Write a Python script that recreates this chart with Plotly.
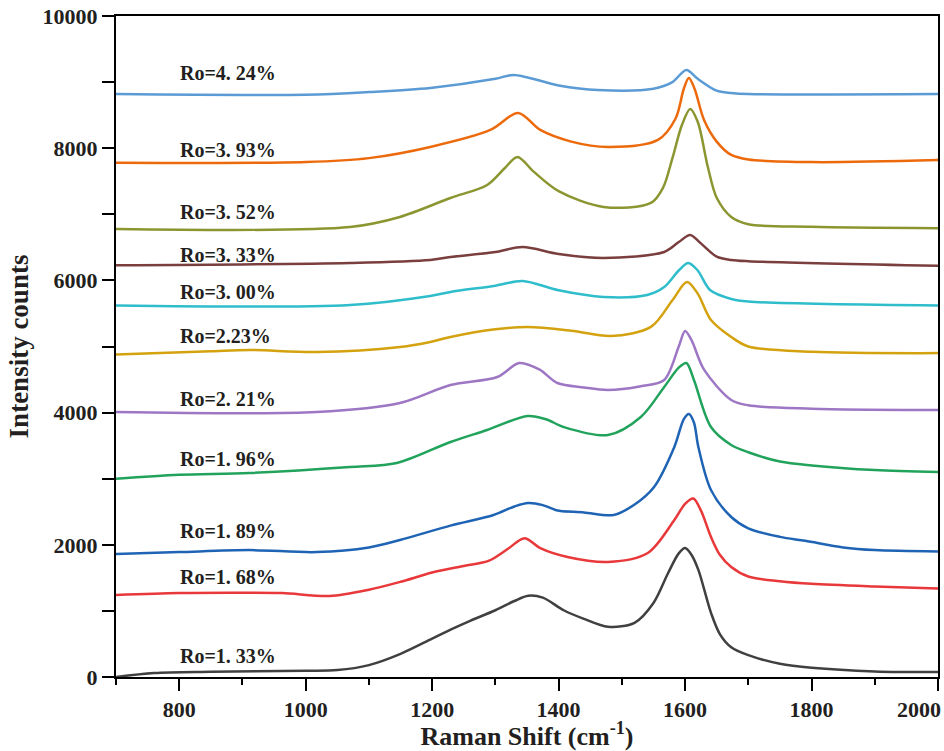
import plotly.graph_objects as go

labels = ["Ro=1. 33%", "Ro=1. 68%", "Ro=1. 89%", "Ro=1. 96%", "Ro=2. 21%", "Ro=2.23%",
          "Ro=3. 00%", "Ro=3. 33%", "Ro=3. 52%", "Ro=3. 93%", "Ro=4. 24%"]
colors = ["#404040", "#e8383a", "#1f64b4", "#22a35c", "#9d76c4", "#d4a20e",
          "#2fbdcc", "#7a3e3e", "#8c9631", "#ec6a0c", "#5b9bd5"]

x_ticks = [800, 1000, 1200, 1400, 1600, 1800, 2000]
x_tick_text = ["800", "1000", "1200", "1400", "1600", "1800", ""]
last_tick_label = "2000"  # drawn right-aligned at the axis end, as in the reference

x_133 = [700, 760, 850, 1000, 1050, 1100, 1150, 1200, 1230, 1260, 1300, 1330, 1352, 1375, 1408, 1440,
         1478, 1520, 1550, 1573, 1590, 1600, 1610, 1621, 1641, 1655, 1673, 1700, 1750, 1800, 1900, 2000]
y_133 = [0, 60, 80, 95, 105, 180, 350, 580, 720, 850, 1010, 1150, 1230, 1200, 1010, 880,
         760, 820, 1120, 1570, 1870, 1950, 1850, 1620, 970, 650, 450, 330, 200, 140, 85, 75]

x_168 = [700, 800, 900, 963, 1038, 1100, 1150, 1200, 1250, 1290, 1320, 1346, 1371, 1414, 1478, 1541,
         1583, 1600, 1613, 1625, 1641, 1655, 1673, 1700, 1750, 1800, 1900, 2000]
y_168 = [1240, 1270, 1275, 1270, 1225, 1320, 1440, 1580, 1680, 1760, 1940, 2100, 1950, 1816, 1740, 1876,
         2375, 2620, 2700, 2520, 2118, 1850, 1664, 1520, 1450, 1410, 1370, 1340]

x_189 = [700, 800, 911, 1017, 1100, 1149, 1229, 1297, 1330, 1352, 1375, 1395, 1403, 1440, 1487, 1519,
         1551, 1583, 1598, 1606, 1614, 1621, 1641, 1673, 1700, 1750, 1790, 1850, 1900, 2000]
y_189 = [1860, 1890, 1920, 1890, 1960, 2073, 2290, 2451, 2580, 2633, 2600, 2527, 2512, 2490, 2451, 2602,
         2875, 3480, 3900, 3979, 3850, 3480, 2829, 2421, 2250, 2120, 2060, 1960, 1920, 1900]

x_196 = [700, 800, 911, 1070, 1144, 1229, 1287, 1351, 1380, 1408, 1478, 1530, 1567, 1590, 1602, 1614,
         1641, 1673, 1700, 1750, 1800, 1900, 2000]
y_196 = [3000, 3060, 3086, 3177, 3238, 3556, 3737, 3949, 3900, 3782, 3661, 3934, 4388, 4680, 4751, 4494,
         3782, 3510, 3400, 3260, 3200, 3130, 3100]

x_221 = [700, 1017, 1149, 1229, 1303, 1338, 1370, 1398, 1440, 1478, 1530, 1567, 1590, 1600, 1610, 1630,
         1673, 1700, 1800, 2000]
y_221 = [4010, 4010, 4146, 4418, 4539, 4751, 4650, 4448, 4380, 4342, 4400, 4494, 5000, 5235, 5100, 4650,
         4191, 4110, 4060, 4040]

x_223 = [700, 850, 911, 1017, 1149, 1197, 1229, 1300, 1351, 1420, 1483, 1546, 1580, 1603, 1620, 1641,
         1673, 1700, 1800, 2000]
y_223 = [4880, 4930, 4947, 4917, 4993, 5069, 5144, 5260, 5296, 5240, 5159, 5296, 5700, 5976, 5800, 5401,
         5144, 5000, 4920, 4900]

x_300 = [700, 1070, 1197, 1229, 1300, 1343, 1400, 1471, 1540, 1567, 1590, 1605, 1620, 1640, 1673, 1700, 2000]
y_300 = [5620, 5628, 5765, 5825, 5920, 5991, 5850, 5749, 5780, 5900, 6150, 6264, 6150, 5850, 5719, 5680, 5620]

x_333 = [700, 1070, 1197, 1229, 1300, 1343, 1400, 1471, 1567, 1590, 1608, 1625, 1650, 1673, 1700, 2000]
y_333 = [6230, 6264, 6309, 6355, 6430, 6506, 6400, 6339, 6430, 6580, 6688, 6560, 6360, 6309, 6290, 6220]

x_352 = [700, 1070, 1149, 1229, 1287, 1315, 1335, 1360, 1400, 1471, 1546, 1565, 1580, 1595, 1608, 1620,
         1636, 1650, 1673, 1700, 1800, 2000]
y_352 = [6778, 6808, 6960, 7247, 7444, 7700, 7868, 7650, 7350, 7111, 7172, 7400, 7850, 8350, 8594, 8400,
         7716, 7250, 6960, 6850, 6810, 6790]

x_393 = [700, 1000, 1100, 1197, 1292, 1336, 1371, 1420, 1478, 1557, 1585, 1598, 1606, 1615, 1630, 1650,
         1673, 1700, 1800, 2000]
y_393 = [7780, 7790, 7850, 8019, 8276, 8533, 8276, 8100, 8019, 8125, 8450, 8900, 9063, 8900, 8427, 8100,
         7898, 7830, 7790, 7820]

x_424 = [700, 1000, 1100, 1197, 1300, 1329, 1400, 1462, 1550, 1580, 1602, 1620, 1650, 1673, 1700, 2000]
y_424 = [8820, 8810, 8850, 8912, 9050, 9108, 8950, 8881, 8900, 9000, 9184, 9050, 8870, 8836, 8820, 8820]

label_x = [798] * 11
label_y = [318, 1513, 2209, 3298, 4206, 5159, 5825, 6385, 7035, 7974, 9139]

xs = [x_133, x_168, x_189, x_196, x_221, x_223, x_300, x_333, x_352, x_393, x_424]
ys = [y_133, y_168, y_189, y_196, y_221, y_223, y_300, y_333, y_352, y_393, y_424]

FONT = "Liberation Serif, Times New Roman, serif"
INK = "#231f20"

fig = go.Figure()
for xv, yv, c, name in zip(xs, ys, colors, labels):
    fig.add_trace(go.Scatter(x=xv, y=yv, mode="lines", name=name,
                             line=dict(color=c, width=2.5, shape="spline", smoothing=0.9),
                             showlegend=False))

for lx, ly, t in zip(label_x, label_y, labels):
    fig.add_annotation(x=lx, y=ly, text=t, showarrow=False, xanchor="left", yanchor="middle",
                       font=dict(family=FONT, size=20, color=INK, weight="bold"))

# last x tick label, right-aligned at the end of the axis
fig.add_annotation(x=x_ticks[-1], xref="x", y=0, yref="paper", text=last_tick_label,
                   showarrow=False, xanchor="right", yanchor="middle", xshift=5, yshift=-32,
                   font=dict(family=FONT, size=22, color=INK, weight="bold"))

axis_common = dict(showline=True, linecolor="black", linewidth=2, mirror=True,
                   ticks="outside", tickcolor="black", tickwidth=2, ticklen=12,
                   showgrid=False, zeroline=False, automargin=False,
                   ticklabeloverflow="allow",
                   tickfont=dict(family=FONT, size=22, color=INK, weight="bold"))

fig.update_layout(
    width=944, height=751,
    margin=dict(l=116, r=6, t=16, b=74),
    paper_bgcolor="white", plot_bgcolor="white",
    xaxis=dict(range=[700, 2000], tickmode="array", tickvals=x_ticks, ticktext=x_tick_text,
               minor=dict(dtick=100, tick0=0, ticks="outside", ticklen=6, tickwidth=2, tickcolor="black"),
               title=dict(text="Raman Shift (cm<sup>-1</sup>)", standoff=4,
                          font=dict(family=FONT, size=26, color=INK, weight="bold")),
               **axis_common),
    yaxis=dict(range=[0, 10000], dtick=2000, tick0=0, tickformat="d",
               minor=dict(dtick=1000, tick0=0, ticks="outside", ticklen=12, tickwidth=2, tickcolor="black"),
               title=dict(text="Intensity counts", standoff=6,
                          font=dict(family=FONT, size=27, color=INK, weight="bold")),
               **axis_common),
)

fig.write_html("out.html", config={"displayModeBar": False},
               post_script="document.body.style.margin='0';")
